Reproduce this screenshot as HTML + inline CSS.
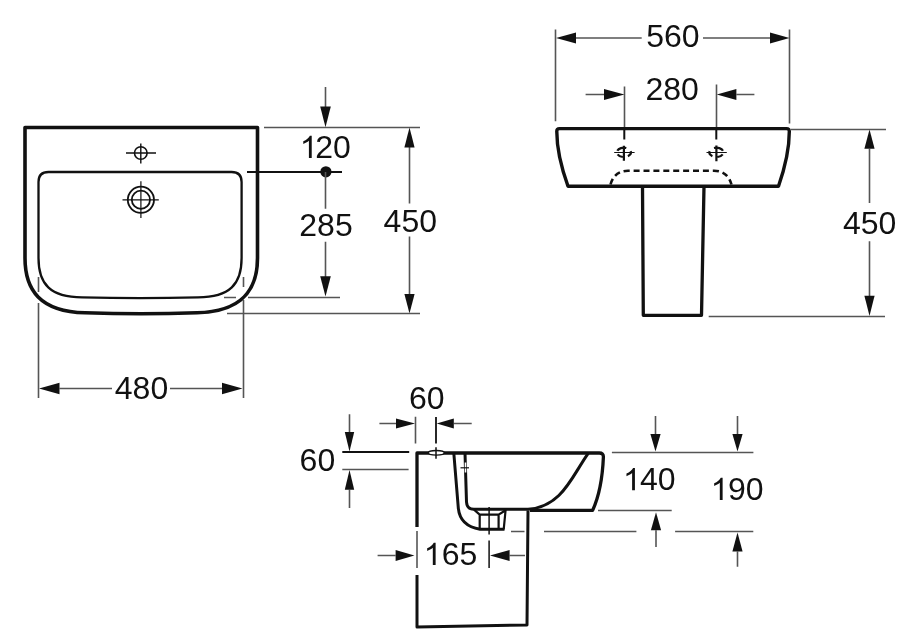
<!DOCTYPE html>
<html><head><meta charset="utf-8"><style>
html,body{margin:0;padding:0;background:#fff;width:900px;height:634px;overflow:hidden}
svg{display:block;filter:grayscale(1)}
text{font-family:"Liberation Sans",sans-serif;font-size:32px;fill:#111;text-anchor:middle}
.t{stroke:#555;stroke-width:1.6;fill:none}
.m{stroke:#111;stroke-width:2;fill:none}
.k{stroke:#111;stroke-width:3;fill:none;stroke-linejoin:round}
.a{fill:#111;stroke:none}
</style></head><body>
<svg width="900" height="634" viewBox="0 0 900 634">
<defs><path id="one" d="M11.92,0 H9.11 V-17.30 Q8.09,-16.36 6.44,-15.43 Q4.78,-14.49 3.47,-14.02 V-16.65 Q5.83,-17.72 7.59,-19.24 Q9.36,-20.77 10.09,-22.2 H11.92 Z"/></defs>
<!-- ===== FRONT (PLAN) VIEW ===== -->
<path class="k" style="stroke-width:3.6" d="M25,127.5 H257.5 V258 C257.5,290 242,311.5 197,312.8 Q141,314.6 85,312.8 C40,311.5 25,290 25,258 Z"/>
<path class="m" style="stroke-width:2.3" d="M48.5,172 H231.6 Q241.6,172 241.6,182 V258 C241.6,284 230,297.3 198,297.3 Q140,298.8 82.1,297.3 C50.1,297.3 38.5,284 38.5,258 V182 Q38.5,172 48.5,172 Z"/>
<circle class="m" style="stroke-width:1.6" cx="140.8" cy="153" r="6.3"/>
<path class="t" style="stroke-width:1.4;stroke:#111" d="M126,153 H156 M140.8,143.5 V163.5"/>
<circle class="m" style="stroke-width:1.8" cx="140.9" cy="199.8" r="13.1"/>
<circle class="m" style="stroke-width:1.8" cx="140.9" cy="199.8" r="9.1"/>
<path class="t" style="stroke:#111;stroke-width:1.2" d="M122.5,199.8 H158.8 M140.9,181.3 V218"/>
<path class="t" d="M325.5,87 V107 M264,127.5 H420"/>
<polygon class="a" points="320.2,106.5 330.8,106.5 325.5,127.2"/>
<path class="m" d="M247,172 H342"/>
<circle class="a" cx="325.9" cy="171.8" r="5.6"/>
<path class="t" d="M325.5,172 V208.8 M325.5,241.7 V277"/>
<polygon class="a" points="320.2,276.3 330.8,276.3 325.5,296.5"/>
<path class="t" d="M224,297.5 H236 M248,297.5 H340"/>
<use href="#one" class="a" transform="translate(299.8,158)"/><text style="text-anchor:start" x="315.2" y="158">20</text>
<text x="326" y="235.7">285</text>
<path class="t" d="M409.5,147 V203.5 M409.5,236.6 V294.5"/>
<polygon class="a" points="404.4,147.5 414.6,147.5 409.5,127.4"/>
<polygon class="a" points="404.4,294 414.6,294 409.5,313.5"/>
<text x="410.3" y="231.8">450</text>
<path class="t" d="M227,313.5 H420"/>
<path class="t" d="M38.5,277 V292 M38.5,303 V398 M243.5,277 V287 M243.5,300 V398"/>
<path class="t" d="M59.5,388.5 H112 M170,388.5 H222"/>
<polygon class="a" points="59.5,382.8 59.5,394.2 39,388.5"/>
<polygon class="a" points="222,382.8 222,394.2 242.5,388.5"/>
<text x="141.5" y="398.8">480</text>

<!-- ===== ELEVATION WITH PEDESTAL ===== -->
<path class="t" d="M555.5,29.6 V121.3 M789.5,29.6 V123.4"/>
<path class="t" d="M576,38 H641.7 M703,38 H770"/>
<polygon class="a" points="576,32.5 576,43.5 556,38"/>
<polygon class="a" points="770,32.5 770,43.5 789.5,38"/>
<text x="672.9" y="46.9">560</text>
<path class="t" d="M585.6,94.5 H604 M736.4,94.5 H754.4 M624.5,86.6 V127 M716.5,84.5 V127"/>
<path class="m" d="M624.3,130 V139.5 M716.3,130 V139.5"/>
<polygon class="a" points="604,89 604,100 624.4,94.5"/>
<polygon class="a" points="736.4,89 736.4,100 716.8,94.5"/>
<text x="672.1" y="100.3">280</text>
<path class="k" style="stroke-width:3.4" d="M559.5,128.6 H786.5 Q789.5,128.6 789.3,131.8 Q789.3,155 778.5,186.3 H568 Q556.8,155 556.8,131.8 Q556.6,128.6 559.5,128.6 Z"/>
<g class="m" style="stroke-width:2.2">
<path d="M623.9,145.8 V160.7 M626.3,148.0 A7,4.7 0 0 0 617.3,150.8 M617.6,154.4 A7,4.7 0 0 0 622.7,157.0 M627.9,156.2 A7,4.7 0 0 0 630.7,151.2"/>
<path d="M716.4,145.6 V161.2 M714.0,148.0 A7,4.7 0 0 1 723.0,150.8 M722.7,154.4 A7,4.7 0 0 1 717.6,157.0 M712.4,156.2 A7,4.7 0 0 1 709.6,151.2"/>
</g>
<path class="t" style="stroke:#111;stroke-width:1.2" d="M614.2,152.5 H634.6 M706.5,152.5 H726.8"/>
<path class="m" style="stroke-width:2.6;stroke-dasharray:6 3.9" d="M610.5,184.5 C613,176 618,171 628,170.7 H714 C724,171 729,176 731.5,184.5"/>
<path class="k" style="stroke-width:3.3" d="M642.5,186.3 L643.3,315.3 H701.5 L704,186.3"/>
<path class="t" d="M708.7,316.5 H885 M790.5,129.5 H886"/>
<path class="t" d="M869.5,148.7 V203 M869.5,241.3 V296"/>
<polygon class="a" points="864.4,148.7 874.6,148.7 869.5,129.5"/>
<polygon class="a" points="864.4,295.7 874.6,295.7 869.5,316"/>
<text x="869.6" y="233.9">450</text>

<!-- ===== SIDE VIEW ===== -->
<text x="426.8" y="408.9">60</text>
<path class="t" d="M379.4,423.5 H396 M453.8,423.5 H471.7 M415.5,416.7 V443.6"/>
<path class="m" style="stroke-width:1.8" d="M436,417 V443.4"/>
<polygon class="a" points="396,418.5 396,428.5 415,423.5"/>
<polygon class="a" points="453.8,418.5 453.8,428.5 436.7,423.5"/>
<text x="317.4" y="470.9">60</text>
<path class="t" d="M349.5,414.2 V432 M349.5,489.8 V508 M342.3,469.5 H408.6"/>
<path class="m" style="stroke-width:1.8" d="M342.3,452 H409.2"/>
<polygon class="a" points="344.8,432 354.2,432 349.5,451.6"/>
<polygon class="a" points="344.8,489.8 354.2,489.8 349.5,469.9"/>
<path class="k" style="stroke-width:3.3" d="M417,527 V453 H599.3 Q603.5,453 603.4,457 Q602,490 592.6,510.4 H530"/>
<path class="k" d="M417,575 V627 L527,625 L528,510.4"/>
<path class="t" d="M417,531 V568"/>
<path class="m" style="stroke-width:3" d="M453.8,453 L458.3,508 Q460,526 480,529.3 H504.5"/>
<path class="m" style="stroke-width:3" d="M465,453 L466.5,502 Q467,509.3 474,509.3 H528 C562,507 572,476 588.2,453.3"/>
<path class="m" style="stroke-width:2.2" d="M474,509.7 L479.7,514.7 H498.6 L505.6,510.3 M505.6,510 L503.7,529.3 M479.7,514.7 V528.6 M498.6,514.7 V528.6"/>
<path class="t" style="stroke:#111;stroke-width:1.5" d="M489.1,507 V534.4 M489.1,540.6 V568"/>
<ellipse cx="436.3" cy="452.8" rx="8" ry="2.3" fill="#fff" stroke="#111" stroke-width="1.4"/>
<path class="t" style="stroke:#111;stroke-width:1.5" d="M436,447.3 V458.7"/>
<rect x="464.7" y="462.5" width="1.6" height="10" fill="#fff"/><path class="t" style="stroke:#111;stroke-width:1.2" d="M460.5,467.8 H469"/>
<path class="t" d="M511,531.5 H524.5 M544,531.5 H636.4 M675.1,531.5 H753.3 M611.9,452.5 H753.4 M598,510.5 H671.7"/>
<path class="t" d="M377.6,555.5 H395.6 M509.6,555.5 H525"/>
<polygon class="a" points="395.6,550 395.6,561 414.4,555.5"/>
<polygon class="a" points="509.6,550 509.6,561 490,555.5"/>
<use href="#one" class="a" transform="translate(423.7,565)"/><text style="text-anchor:start" x="441.8" y="565">65</text>
<path class="t" d="M655.5,415.9 V434.1 M656,530.2 V547.1 M737.5,415.9 V434.1 M737.5,551.6 V566.7"/>
<polygon class="a" points="650.4,434.1 660.6,434.1 655.5,451.6"/>
<polygon class="a" points="650.9,530.2 661.1,530.2 656,512.2"/>
<polygon class="a" points="732.4,434.1 742.6,434.1 737.5,451.6"/>
<polygon class="a" points="732.4,551.6 742.6,551.6 737.5,532.6"/>
<use href="#one" class="a" transform="translate(623.0,490.2)"/><text style="text-anchor:start" x="640" y="490.2">40</text>
<use href="#one" class="a" transform="translate(710.7,500)"/><text style="text-anchor:start" x="727.9" y="500">90</text>
</svg>
</body></html>
